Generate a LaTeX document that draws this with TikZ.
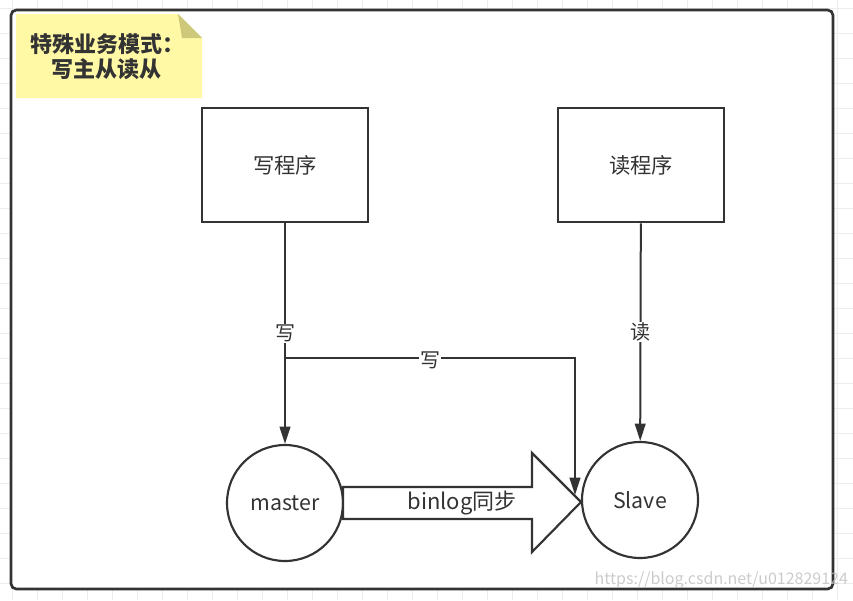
\documentclass[tikz,border=0pt]{standalone}
\usepackage{fontspec}
\setmainfont{Noto Sans CJK SC}
\usetikzlibrary{arrows.meta}
\definecolor{notefill}{RGB}{255,249,166}
\definecolor{notefold}{RGB}{206,201,122}
\definecolor{ink}{RGB}{51,51,51}
\definecolor{gridline}{RGB}{236,236,236}
\tikzset{
    prog/.style={draw=ink, line width=1.6pt, fill=white, minimum width=124.5pt,
        minimum height=86pt, font=\fontsize{16}{18}\selectfont, text=ink},
    db/.style={draw=ink, line width=1.6pt, circle, fill=white, minimum size=87pt,
        inner sep=0pt, font=\fontsize{16}{18}\selectfont, text=ink},
    conn/.style={draw=ink, line width=1.5pt, -{Triangle[length=13pt,width=8pt]}},
    lbl/.style={fill=white, inner sep=0.5pt, font=\fontsize{15}{17}\selectfont, text=ink}
}
\begin{document}
\begin{tikzpicture}[x=0.75pt, y=-0.75pt]
    \useasboundingbox (0,0) rectangle (853,600);
    \foreach \y in {8,33,...,583} {
        \draw[gridline, line width=0.75pt] (0,\y) -- (853,\y);
    }
    \foreach \x in {12,37,...,837} {
        \draw[gridline, line width=0.75pt] (\x,0) -- (\x,600);
    }
    \draw[draw=ink, line width=2pt, fill=white, rounded corners=4pt] (11,10) rectangle (833,589);

    \fill[notefill] (16,14) -- (178,14) -- (202,38) -- (202,98) -- (16,98) -- cycle;
    \fill[notefold] (178,14) -- (202,38) -- (182,38) -- cycle;
    \node[align=center, text=ink, font=\fontsize{16.5}{19}\selectfont\bfseries] (note) at (107,57)
        {特殊业务模式：\\写主从读从};

    \node[prog] (wr) at (285,165) {写程序};
    \node[prog] (rd) at (641,165) {读程序};
    \node[db] (master) at (285,503) {master};
    \node[db] (slave) at (640,500) {Slave};

    \draw[draw=ink, line width=1.6pt, fill=white] (343,487) -- (532,487) -- (532,453) -- (581,502)
        -- (532,552) -- (532,519) -- (343,519) -- cycle;
    \node[text=ink, font=\fontsize{16.5}{18}\selectfont] (sync) at (462,503) {binlog同步};

    \coordinate (fork) at (285,358);
    \coordinate (wend) at (575,495);
    \draw[conn] (wr) -- node[lbl] (w1) {写} (master);
    \draw[conn] (fork) -| (wend);
    \node[lbl] (w2) at (430,360) {写};
    \draw[conn] (rd) -- node[lbl] (r1) {读} (slave);

    \node[anchor=west, text=black!25, opacity=0.8, font=\fontsize{12}{14}\selectfont] (mark) at (590,580)
        {https://blog.csdn.net/u012829124};
\end{tikzpicture}
\end{document}
